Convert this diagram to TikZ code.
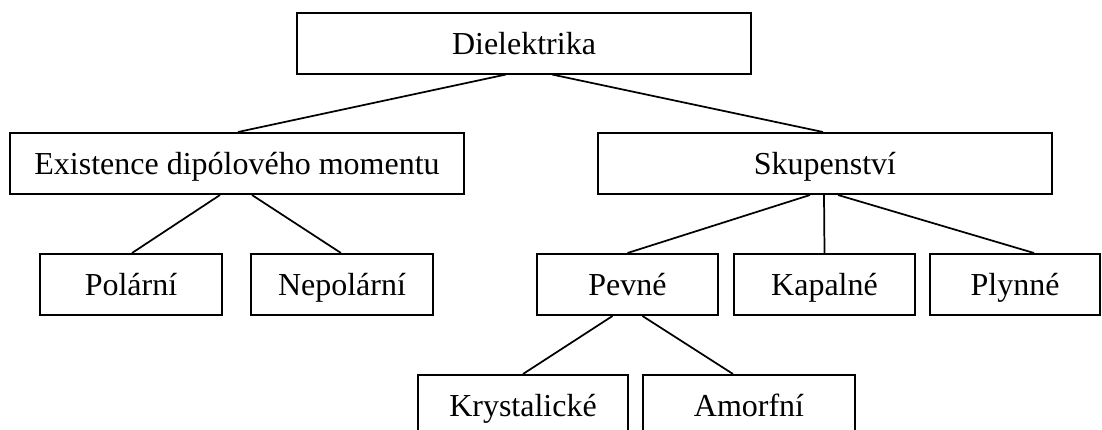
\documentclass[tikz,border=0pt]{standalone}
\usepackage{fontspec}
\setmainfont{Liberation Serif}
\usetikzlibrary{calc}

\begin{document}
\begin{tikzpicture}[x=0.75pt, y=-0.75pt,
  box/.style={draw, line width=1.5pt, inner sep=0pt,
    minimum height=61*0.75pt, text height=17pt, text depth=0.5pt,
    font=\fontsize{24}{28}\selectfont},
  boxw/.style={minimum width=#1*0.75pt},
  edge/.style={line width=1.3pt}]

\clip (0,0) rectangle (1102,429);

\node [box, boxw=454] (diel) at (524,43) {Dielektrika};

\node [box, boxw=454] (dipol) at (237,163.5) {Existence dipólového momentu};
\node [box, boxw=454] (skup)  at (825,163.5) {Skupenství};

\foreach \n/\x/\w/\t in {polar/131/182/Polární, nepolar/342/182/Nepolární,
    pevne/627.5/181/Pevné, kapal/824.5/181/Kapalné, plyn/1015/170/Plynné}
  \node [box, boxw=\w] (\n) at (\x,284.5) {\t};

\node [box, boxw=210] (kryst) at (523,405.5) {Krystalické};
\node [box, boxw=212] (amorf) at (749,405.5) {Amorfní};

\foreach \a/\b/\da/\db in {diel/dipol/-18/1, diel/skup/28/-2,
    dipol/polar/-17/1, dipol/nepolar/15/-1,
    skup/pevne/-15/0, skup/kapal/-1/0, skup/plyn/13/19,
    pevne/kryst/-15/0, pevne/amorf/15/-16}
  \draw [edge] ($(\a.south)+(\da,0)$) -- ($(\b.north)+(\db,0)$);

\end{tikzpicture}
\end{document}
